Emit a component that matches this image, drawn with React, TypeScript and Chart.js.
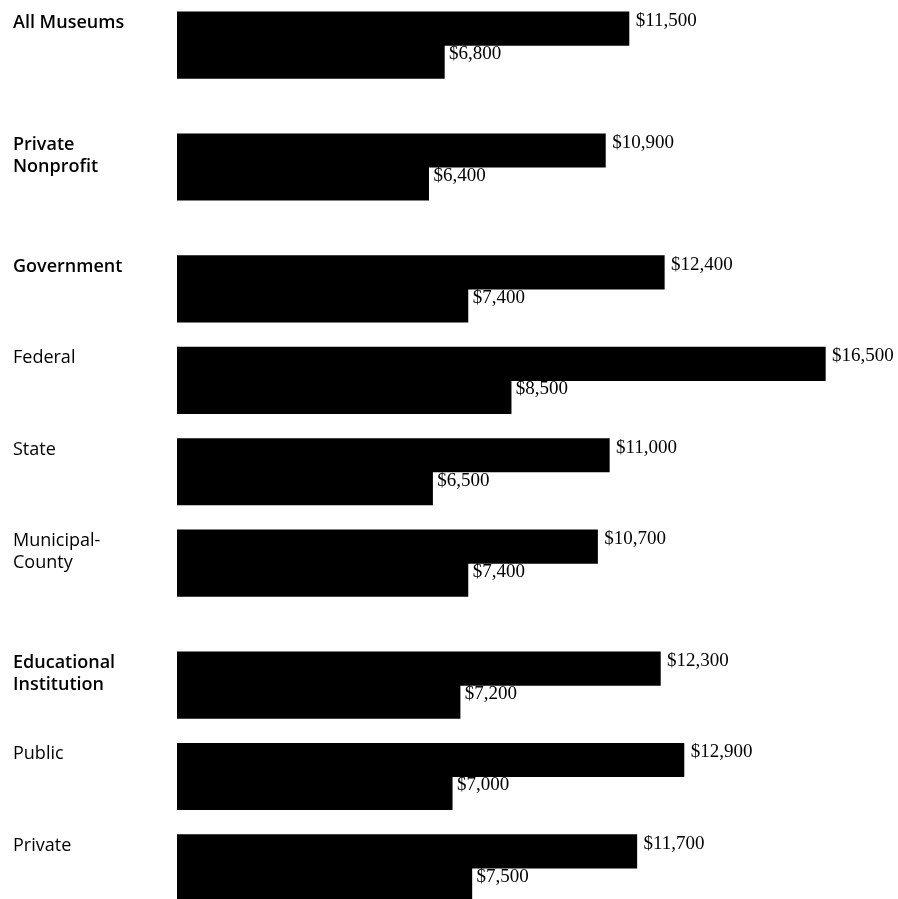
import React, { useEffect, useRef } from "react";
import { Chart, registerables } from "chart.js";

Chart.register(...registerables);

// ---- data ----
const categories = [
  "All Museums",
  "Private Nonprofit",
  "Government",
  "Federal",
  "State",
  "Municipal-County",
  "Educational Institution",
  "Public",
  "Private",
];
const categoryLines = [
  ["All Museums"],
  ["Private", "Nonprofit"],
  ["Government"],
  ["Federal"],
  ["State"],
  ["Municipal-", "County"],
  ["Educational", "Institution"],
  ["Public"],
  ["Private"],
];
// which section each category belongs to (first of a section is a heading)
const sectionOf = [0, 1, 2, 2, 2, 2, 3, 3, 3];
const topBarValues = [11500, 10900, 12400, 16500, 11000, 10700, 12300, 12900, 11700];
const bottomBarValues = [6800, 6400, 7400, 8500, 6500, 7400, 7200, 7000, 7500];

// row position: three units per row plus one unit of space between sections
const rowPos = categories.map((_, i) => i * 3 + sectionOf[i]);

const BAR = 33;

const labelsPlugin = {
  id: "museumLabels",
  afterDatasetsDraw(chart: any) {
    const ctx = chart.ctx as CanvasRenderingContext2D;
    const yScale = chart.scales.y;
    ctx.save();
    ctx.fillStyle = "#000";
    ctx.textBaseline = "alphabetic";
    ctx.textAlign = "left";
    categoryLines.forEach((lines, i) => {
      const top = yScale.getPixelForValue(rowPos[i]) - BAR;
      const heading = i === 0 || sectionOf[i] !== sectionOf[i - 1];
      ctx.font = `${heading ? "600" : "400"} 18px "Open Sans"`;
      lines.forEach((ln, j) => ctx.fillText(ln, 13, top + 16 + j * 22));
    });
    ctx.font = '19px "Liberation Serif"';
    [0, 1].forEach((d) => {
      const meta = chart.getDatasetMeta(d);
      meta.data.forEach((el: any, i: number) => {
        const p = el.getProps(["x", "y", "height"], true);
        const v = (d === 0 ? topBarValues : bottomBarValues)[i];
        ctx.fillText(
          "$" + v.toLocaleString("en-US"),
          p.x + (d === 0 ? 7 : 5),
          p.y - p.height / 2 + 14
        );
      });
    });
    ctx.restore();
  },
};

export default function App() {
  const ref = useRef<HTMLCanvasElement | null>(null);
  useEffect(() => {
    if (!ref.current) return;
    const chart = new Chart(ref.current, {
      type: "bar",
      data: {
        datasets: [
          {
            label: "Top",
            data: topBarValues.map((v, i) => ({ x: v, y: rowPos[i] })) as any,
            backgroundColor: "#000",
            borderWidth: 0,
            inflateAmount: 0.6,
            barThickness: BAR,
          } as any,
          {
            label: "Bottom",
            data: bottomBarValues.map((v, i) => ({ x: v, y: rowPos[i] })) as any,
            backgroundColor: "#000",
            borderWidth: 0,
            inflateAmount: 0.6,
            barThickness: BAR,
          } as any,
        ],
      },
      options: {
        indexAxis: "y",
        responsive: false,
        animation: false,
        layout: { padding: { left: 177, right: 14, top: 0, bottom: 0 } },
        scales: {
          x: { type: "linear", min: 0, max: 18000, display: false },
          y: {
            type: "linear",
            min: -1.48,
            max: 28.02,
            reverse: true,
            offset: false,
            display: false,
          },
        },
        plugins: {
          legend: { display: false },
          tooltip: { enabled: false },
        },
      },
      plugins: [labelsPlugin],
    });
    return () => chart.destroy();
  }, []);
  return (
    <div style={{ position: "absolute", left: 0, top: 0, width: 898, height: 899, background: "#fff" }}>
      <canvas ref={ref} width={898} height={899} style={{ display: "block" }} />
    </div>
  );
}
